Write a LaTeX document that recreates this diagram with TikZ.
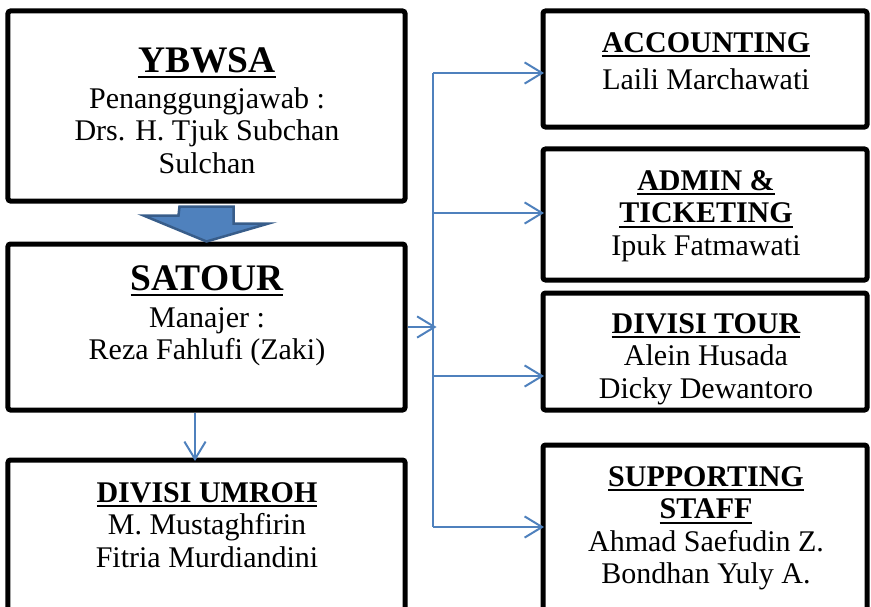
\documentclass[tikz,border=0pt]{standalone}
\usepackage{fontspec}
\setmainfont{Liberation Serif}
\usetikzlibrary{arrows.meta, positioning, calc}
\definecolor{linkblue}{RGB}{79, 129, 189}
\definecolor{blockedge}{RGB}{56, 93, 138}
\newcommand{\hdline}[1]{\textbf{\setbox0=\hbox{#1}\rlap{\rule[-0.16em]{\wd0}{0.065em}}\box0}}

\begin{document}
\begin{tikzpicture}[x=0.4pt, y=-0.4pt,
  orgbox/.style={draw=black, line width=2pt, rounded corners=1pt, inner sep=0pt},
  boxtext/.style={anchor=north, align=center, inner sep=0pt, font=\fontsize{12}{13}\selectfont},
  link/.style={draw=linkblue, line width=0.8pt, -{Straight Barb[length=7pt, width=8.5pt]}, shorten >=-1.4pt}]
  \useasboundingbox (0,0) rectangle (871,606);
  \clip (0,0) rectangle (871,606);

  % texts
  \node[boxtext] (ybwsaTxt) at (207,47) {{\fontsize{15}{15}\selectfont\hdline{YBWSA}}\\[1.4pt]
    Penanggungjawab :\\ Drs. H. Tjuk Subchan\\ Sulchan};
  \node[boxtext] (satourTxt) at (207,265) {{\fontsize{15}{15}\selectfont\hdline{SATOUR}}\\[1.8pt]
    Manajer :\\ Reza Fahlufi (Zaki)};
  \node[boxtext] (umrohTxt) at (207,482) {\hdline{DIVISI UMROH}\\ M. Mustaghfirin\\ Fitria Murdiandini};
  \node[boxtext] (accTxt) at (706,32) {\hdline{ACCOUNTING}\\[1.8pt] Laili Marchawati};
  \node[boxtext] (adminTxt) at (706,170) {\hdline{ADMIN \&}\\ \hdline{TICKETING}\\ Ipuk Fatmawati};
  \node[boxtext] (tourTxt) at (706,313) {\hdline{DIVISI TOUR}\\ Alein Husada\\ Dicky Dewantoro};
  \node[boxtext] (supportTxt) at (706,466) {\hdline{SUPPORTING}\\ \hdline{STAFF}\\
    Ahmad Saefudin Z.\\ Bondhan Yuly A.};

  % boxes
  \node[orgbox, minimum width=158.8pt, minimum height=76pt] (ybwsa) at (206.5,106) {};
  \node[orgbox, minimum width=158.8pt, minimum height=66.4pt] (satour) at (206.5,327) {};
  \node[orgbox, minimum width=158.8pt, minimum height=72pt] (umroh) at (206.5,550) {};
  \node[orgbox, minimum width=129.6pt, minimum height=46.4pt] (accounting) at (705,69) {};
  \node[orgbox, minimum width=129.6pt, minimum height=52.4pt] (admin) at (705,214.5) {};
  \node[orgbox, minimum width=129.6pt, minimum height=46.8pt] (tour) at (705,351.5) {};
  \node[orgbox, minimum width=129.6pt, minimum height=78pt] (support) at (705,542.5) {};

  % block arrow
  \draw[fill=linkblue, draw=blockedge, line width=1pt, line join=miter]
    ($(ybwsa.south)+(-27,3)$) -- ++(54,0) -- ++(0,17) -- ++(35,0) -- (satour.north)
    -- ++(-63,-26) -- ++(35,0) -- cycle;

  % connectors
  \coordinate (hub) at (433,327);
  \coordinate (tapA) at (433,73);
  \coordinate (tapB) at (433,213);
  \coordinate (tapC) at (433,376);
  \coordinate (tapD) at (433,527);
  \draw[linkblue, line width=0.8pt] (tapA) -- (tapD);
  \draw[link] (satour.east) -- (hub);
  \draw[link] (tapA) -- (tapA -| accounting.west);
  \draw[link] (tapB) -- (tapB -| admin.west);
  \draw[link] (tapC) -- (tapC -| tour.west);
  \draw[link] (tapD) -- (tapD -| support.west);
  \draw[link] ([xshift=-4.6pt]satour.south) -- ([xshift=-4.6pt]umroh.north);
\end{tikzpicture}
\end{document}
